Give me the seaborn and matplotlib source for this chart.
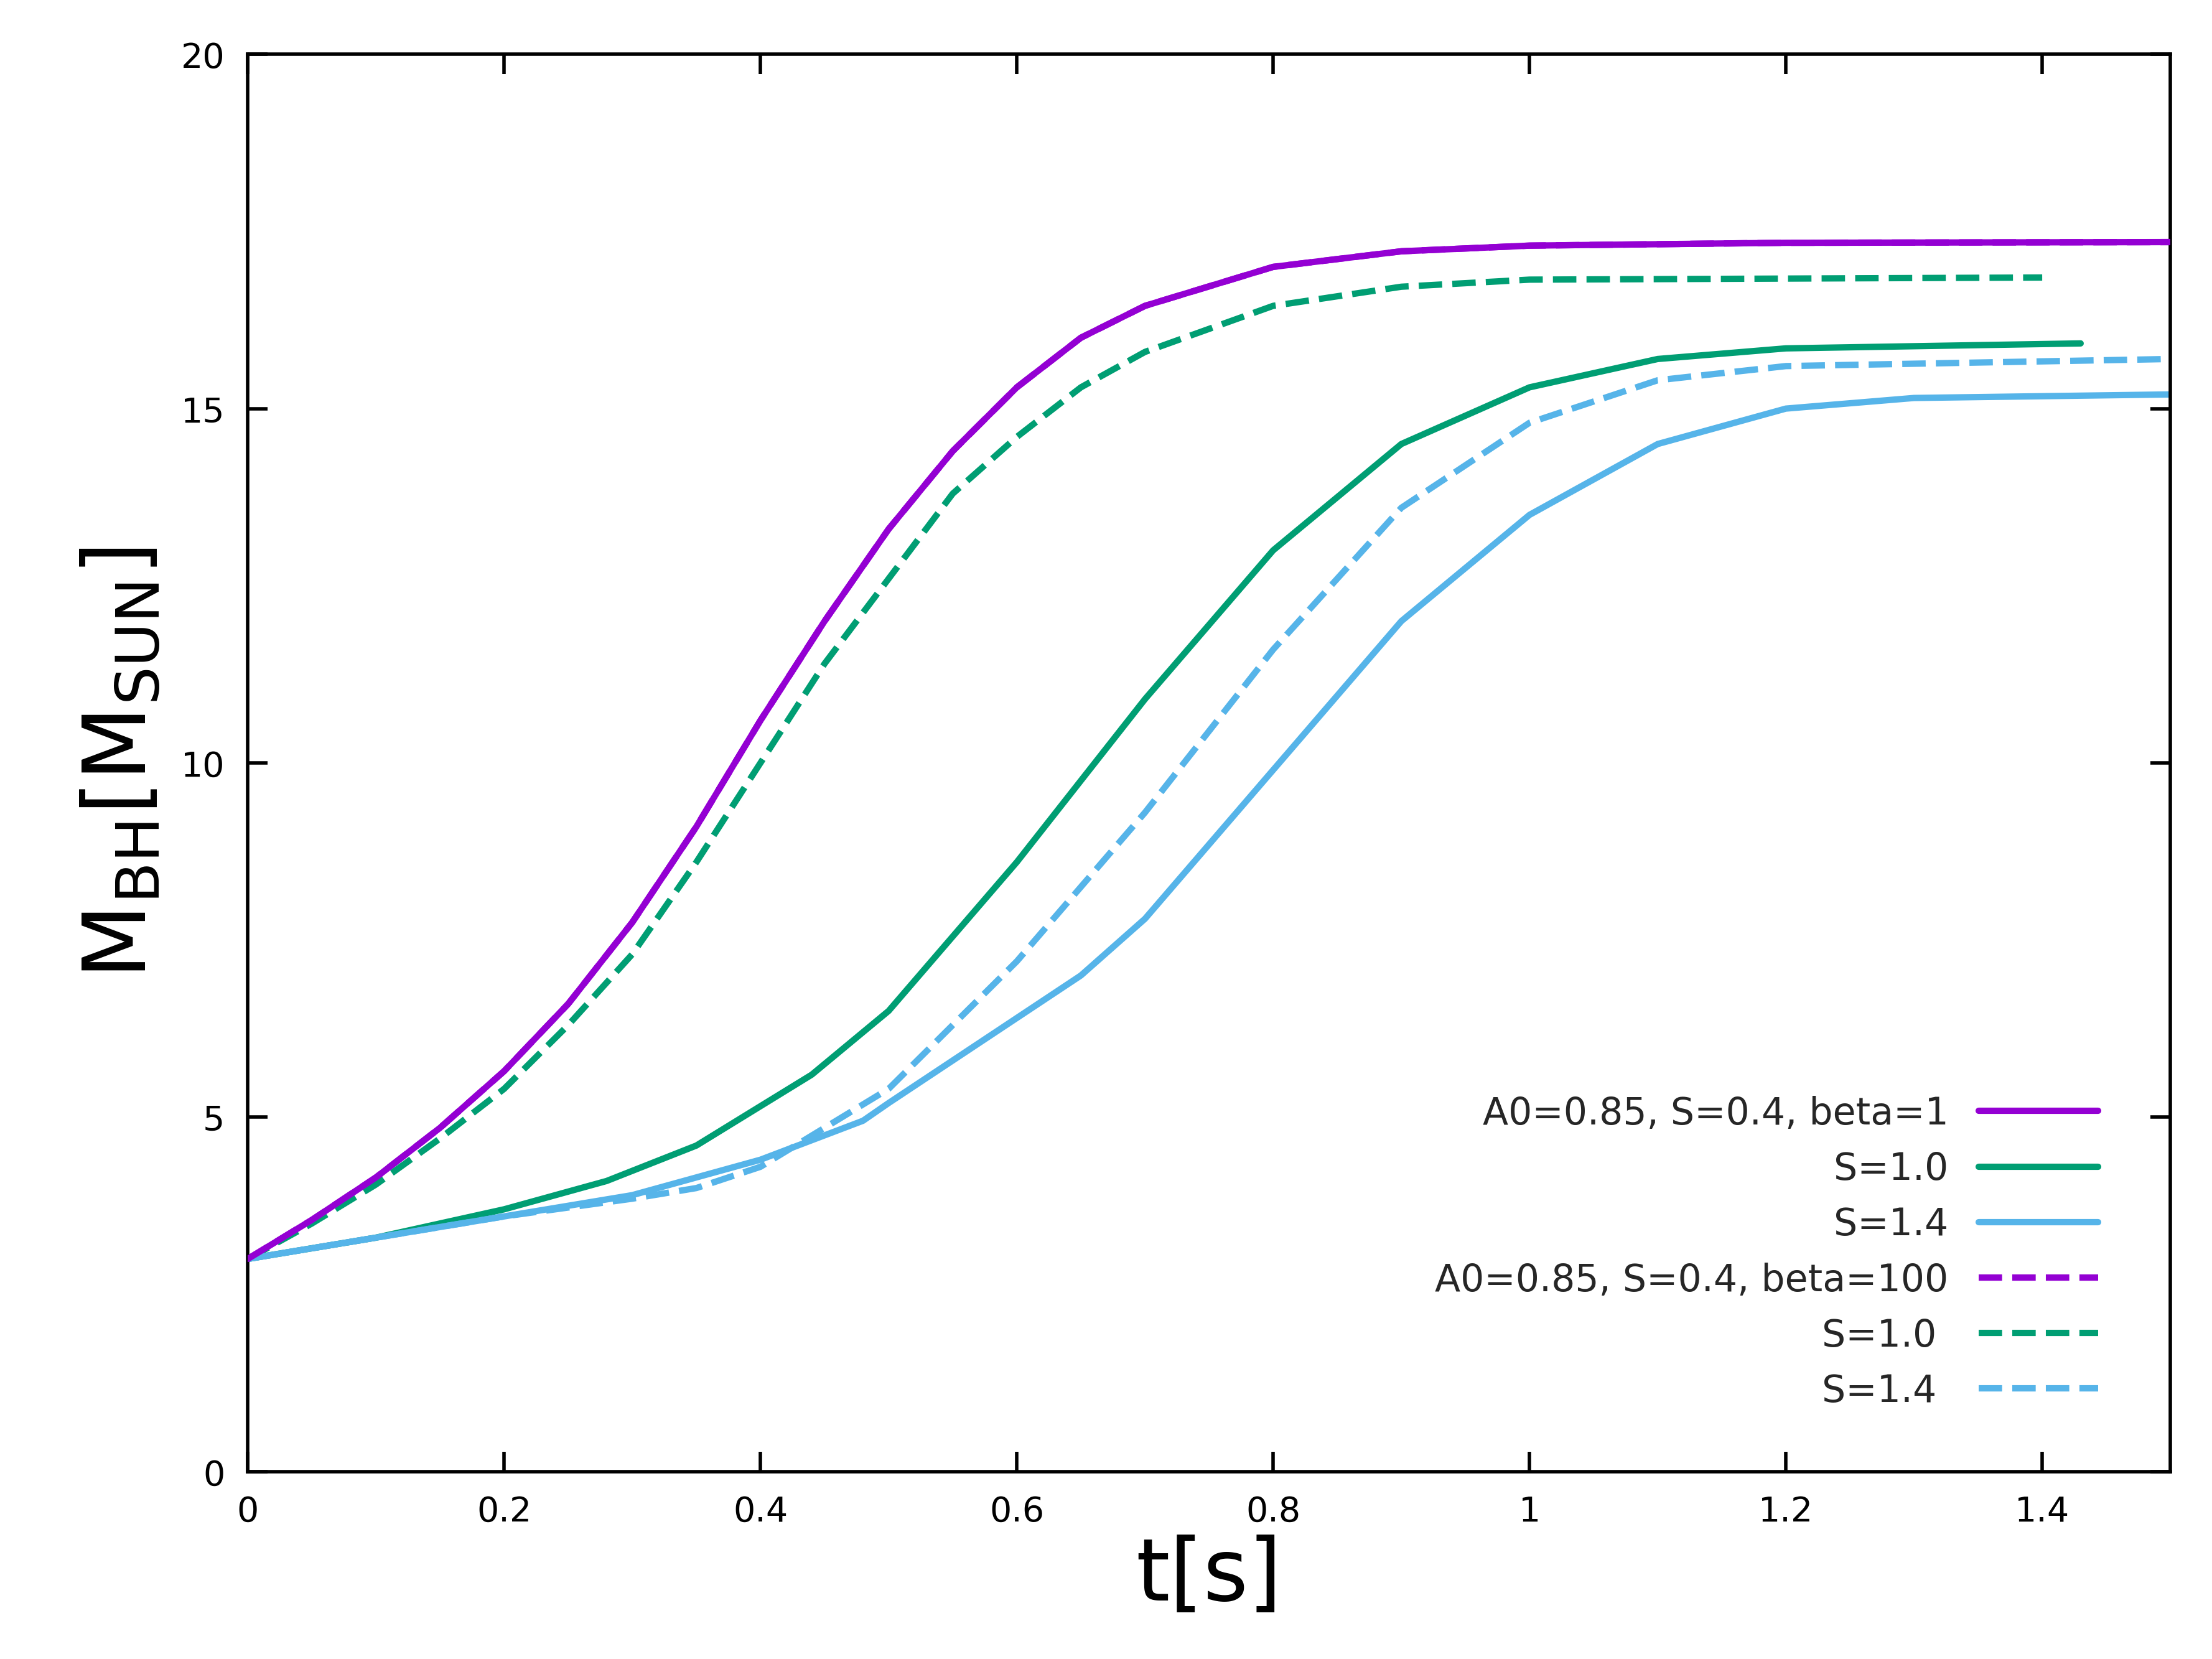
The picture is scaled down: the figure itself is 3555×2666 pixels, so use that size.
import matplotlib
matplotlib.use("Agg")
import matplotlib.pyplot as plt
import seaborn as sns
import pandas as pd

# curves
t_p1 = [0, 0.05, 0.1, 0.15, 0.2, 0.25, 0.3, 0.35, 0.4, 0.45, 0.5, 0.55, 0.6, 0.65, 0.7, 0.8, 0.9, 1.0, 1.2, 1.5]
m_p1 = [3.0, 3.55, 4.15, 4.85, 5.65, 6.6, 7.75, 9.1, 10.6, 12.0, 13.3, 14.4, 15.3, 16.0, 16.45, 17.0, 17.22, 17.3, 17.34, 17.35]

t_g1 = [0, 0.1, 0.2, 0.28, 0.35, 0.44, 0.5, 0.6, 0.7, 0.8, 0.9, 1.0, 1.1, 1.2, 1.43]
m_g1 = [3.0, 3.3, 3.7, 4.1, 4.6, 5.6, 6.5, 8.6, 10.9, 13.0, 14.5, 15.3, 15.7, 15.85, 15.92]

t_b1 = [0, 0.1, 0.2, 0.3, 0.4, 0.48, 0.5, 0.6, 0.65, 0.7, 0.8, 0.9, 1.0, 1.1, 1.2, 1.3, 1.5]
m_b1 = [3.0, 3.3, 3.6, 3.9, 4.4, 4.95, 5.2, 6.4, 7.0, 7.8, 9.9, 12.0, 13.5, 14.5, 15.0, 15.15, 15.2]

t_p100 = t_p1
m_p100 = m_p1

t_g100 = [0, 0.05, 0.1, 0.15, 0.2, 0.25, 0.3, 0.35, 0.4, 0.45, 0.5, 0.55, 0.6, 0.65, 0.7, 0.8, 0.9, 1.0, 1.4]
m_g100 = [3.0, 3.5, 4.05, 4.7, 5.4, 6.3, 7.3, 8.6, 10.0, 11.4, 12.6, 13.8, 14.6, 15.3, 15.8, 16.45, 16.72, 16.82, 16.85]

t_b100 = [0, 0.1, 0.2, 0.3, 0.35, 0.4, 0.5, 0.6, 0.7, 0.8, 0.9, 1.0, 1.1, 1.2, 1.5]
m_b100 = [3.0, 3.3, 3.6, 3.85, 4.0, 4.3, 5.4, 7.2, 9.3, 11.6, 13.6, 14.8, 15.4, 15.6, 15.7]

series = [
    ("A0=0.85, S=0.4, beta=1", t_p1, m_p1, "#9400D3", "-"),
    ("S=1.0", t_g1, m_g1, "#009E73", "-"),
    ("S=1.4", t_b1, m_b1, "#56B4E9", "-"),
    ("A0=0.85, S=0.4, beta=100", t_p100, m_p100, "#9400D3", "--"),
    ("S=1.0 ", t_g100, m_g100, "#009E73", "--"),
    ("S=1.4 ", t_b100, m_b100, "#56B4E9", "--"),
]

sns.set_style("ticks")
fig = plt.figure(figsize=(10.668, 8.001), dpi=333.3)
ax = fig.add_axes([0.112, 0.113, 0.869, 0.854])

order = [3, 0, 1, 2, 4, 5]  # draw dashed purple beneath solid purple
for i in order:
    lab, t, m, c, ls = series[i]
    df = pd.DataFrame({"t": t, "m": m})
    sns.lineplot(data=df, x="t", y="m", ax=ax, color=c, linewidth=2.2,
                 linestyle=ls, label=lab, zorder=3 if i == 0 else 2)

handles, labels = ax.get_legend_handles_labels()
hmap = dict(zip(labels, handles))
names = [s[0] for s in series]
ax.legend([hmap[n] for n in names], names, loc="lower right", frameon=False,
          markerfirst=False, fontsize=13, handlelength=3.2,
          bbox_to_anchor=(0.98, 0.02), labelspacing=0.5)

ax.set_xlim(0, 1.5)
ax.set_ylim(0, 20)
ax.set_xticks([0, 0.2, 0.4, 0.6, 0.8, 1.0, 1.2, 1.4])
ax.set_xticklabels(["0", "0.2", "0.4", "0.6", "0.8", "1", "1.2", "1.4"])
ax.set_yticks([0, 5, 10, 15, 20])
ax.tick_params(direction="in", top=True, right=True, length=7, width=1.2,
               labelsize=12, pad=8, colors="black")
for s in ax.spines.values():
    s.set_linewidth(1.2)
    s.set_color("black")
ax.set_xlabel("t[s]", fontsize=30, labelpad=2, color="black")
ax.set_ylabel(r"M$_{\mathrm{BH}}$[M$_{\mathrm{SUN}}$]", fontsize=30, labelpad=6, color="black")

fig.savefig("out.png", dpi=333.3)
